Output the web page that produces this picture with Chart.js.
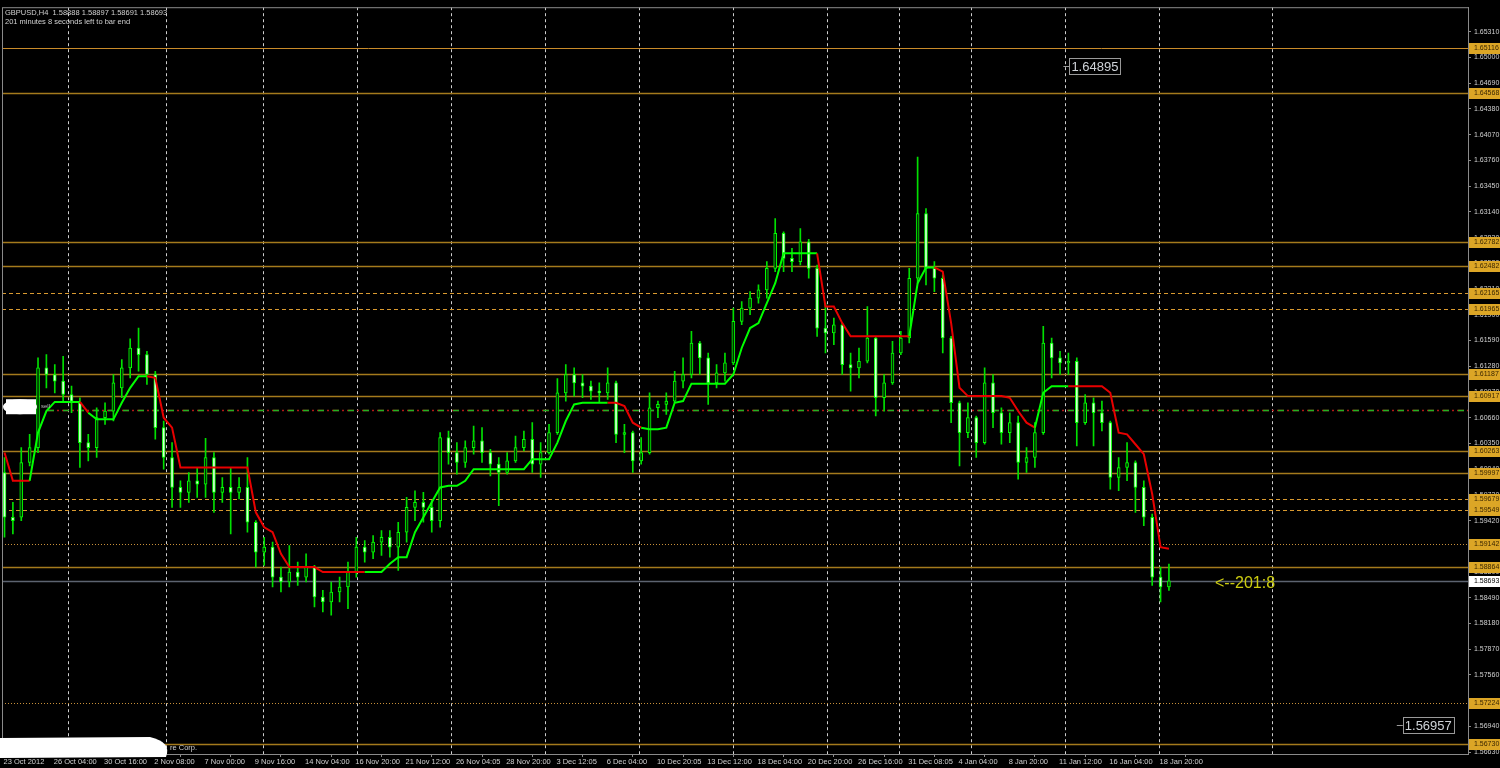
<!DOCTYPE html>
<html>
<head>
<meta charset="utf-8">
<title>GBPUSD,H4</title>
<script src="https://cdn.jsdelivr.net/npm/chart.js@4.4.1/dist/chart.umd.min.js"></script>
<style>
    html, body { margin: 0; padding: 0; background: #000; overflow: hidden; }
    canvas { display: block; }
</style>
</head>
<body>
<canvas id="myChart" width="1500" height="768"></canvas>
<script>
const openP = [
    1.6000,1.5946,1.5946,1.6012,1.6030,1.6126,1.6118,1.6110,1.6094,1.6084,
    1.6036,1.6030,1.6066,1.6074,1.6102,1.6126,1.6150,1.6142,1.6118,1.6054,
    1.6018,1.5982,1.5976,1.5990,1.5986,1.6018,1.5976,1.5982,1.5976,1.5982,
    1.5940,1.5904,1.5910,1.5874,1.5868,1.5880,1.5874,1.5886,1.5850,1.5844,
    1.5856,1.5862,1.5880,1.5910,1.5904,1.5916,1.5922,1.5910,1.5928,1.5958,
    1.5964,1.5958,1.5942,1.6042,1.6024,1.6012,1.6030,1.6038,1.6024,1.6010,
    1.6000,1.6014,1.6030,1.6040,1.6010,1.6024,1.6048,1.6096,1.6118,1.6108,
    1.6104,1.6098,1.6096,1.6108,1.6046,1.6048,1.6014,1.6024,1.6078,1.6082,
    1.6086,1.6110,1.6118,1.6156,1.6138,1.6108,1.6120,1.6132,1.6182,1.6198,
    1.6210,1.6220,1.6246,1.6288,1.6258,1.6254,1.6278,1.6246,1.6174,1.6168,
    1.6178,1.6130,1.6126,1.6134,1.6162,1.6090,1.6108,1.6144,1.6162,1.6234,
    1.6312,1.6246,1.6234,1.6162,1.6084,1.6048,1.6066,1.6036,1.6108,1.6072,
    1.6048,1.6060,1.6012,1.6018,1.6048,1.6156,1.6138,1.6132,1.6134,1.6060,
    1.6084,1.6072,1.6060,1.5994,1.6006,1.6012,1.5982,1.5946,1.5874,1.5862
];
const highP = [
    1.6018,1.5964,1.6030,1.6046,1.6138,1.6142,1.6130,1.6140,1.6104,1.6090,
    1.6046,1.6078,1.6084,1.6118,1.6136,1.6161,1.6174,1.6146,1.6122,1.6062,
    1.6036,1.5990,1.6000,1.6006,1.6041,1.6024,1.5994,1.6005,1.5994,1.6018,
    1.5942,1.5922,1.5916,1.5886,1.5912,1.5892,1.5902,1.5888,1.5858,1.5868,
    1.5874,1.5892,1.5922,1.5918,1.5924,1.5930,1.5930,1.5940,1.5970,1.5978,
    1.5976,1.5966,1.6048,1.6050,1.6036,1.6038,1.6056,1.6054,1.6028,1.6018,
    1.6024,1.6044,1.6050,1.6060,1.6036,1.6058,1.6113,1.6130,1.6126,1.6118,
    1.6110,1.6108,1.6126,1.6110,1.6058,1.6050,1.6042,1.6096,1.6086,1.6096,
    1.6122,1.6138,1.6170,1.6158,1.6144,1.6130,1.6144,1.6198,1.6206,1.6218,
    1.6226,1.6254,1.6306,1.6290,1.6270,1.6294,1.6281,1.6250,1.6204,1.6186,
    1.6180,1.6144,1.6150,1.6200,1.6164,1.6118,1.6158,1.6170,1.6246,1.6380,
    1.6318,1.6254,1.6238,1.6164,1.6086,1.6084,1.6068,1.6126,1.6118,1.6078,
    1.6072,1.6068,1.6030,1.6060,1.6176,1.6162,1.6146,1.6144,1.6138,1.6094,
    1.6090,1.6086,1.6062,1.6018,1.6036,1.6014,1.5990,1.5950,1.5886,1.58897
];
const lowP = [
    1.5922,1.5926,1.5942,1.6008,1.6024,1.6102,1.6096,1.6084,1.6072,1.6006,
    1.6014,1.6018,1.6058,1.6062,1.6090,1.6114,1.6122,1.6106,1.6040,1.6004,
    1.5958,1.5958,1.5964,1.5970,1.5970,1.5952,1.5964,1.5926,1.5968,1.5928,
    1.5886,1.5888,1.5862,1.5856,1.5862,1.5864,1.5868,1.5838,1.5832,1.5828,
    1.5844,1.5836,1.5874,1.5892,1.5896,1.5900,1.5898,1.5882,1.5916,1.5942,
    1.5940,1.5928,1.5934,1.6010,1.5998,1.6006,1.6022,1.6012,1.5996,1.5960,
    1.5998,1.6012,1.6026,1.6000,1.5994,1.6022,1.6046,1.6086,1.6092,1.6090,
    1.6088,1.6084,1.6088,1.6036,1.6024,1.6000,1.6010,1.6022,1.6066,1.6070,
    1.6084,1.6102,1.6114,1.6118,1.6082,1.6102,1.6110,1.6130,1.6178,1.6190,
    1.6204,1.6210,1.6242,1.6242,1.6242,1.6250,1.6234,1.6164,1.6144,1.6154,
    1.6118,1.6098,1.6114,1.6132,1.6068,1.6074,1.6106,1.6142,1.6156,1.6228,
    1.6226,1.6218,1.6144,1.6060,1.6008,1.6042,1.6018,1.6034,1.6054,1.6034,
    1.6036,1.5992,1.6000,1.6006,1.6046,1.6114,1.6118,1.6118,1.6032,1.6058,
    1.6032,1.6050,1.5980,1.5978,1.5990,1.5952,1.5936,1.5864,1.5844,1.5858
];
const closeP = [
    1.5946,1.5942,1.6012,1.6030,1.6126,1.6118,1.6110,1.6094,1.6086,1.6036,
    1.6030,1.6066,1.6074,1.6108,1.6126,1.6150,1.6142,1.6118,1.6054,1.6018,
    1.5982,1.5976,1.5990,1.5986,1.6018,1.5976,1.5982,1.5976,1.5982,1.5940,
    1.5904,1.5910,1.5874,1.5868,1.5880,1.5874,1.5886,1.5850,1.5844,1.5856,
    1.5862,1.5880,1.5910,1.5904,1.5916,1.5922,1.5910,1.5928,1.5958,1.5964,
    1.5958,1.5942,1.6042,1.6024,1.6012,1.6030,1.6038,1.6024,1.6010,1.6000,
    1.6014,1.6030,1.6040,1.6010,1.6024,1.6048,1.6096,1.6118,1.6108,1.6104,
    1.6098,1.6096,1.6108,1.6046,1.6048,1.6014,1.6024,1.6078,1.6082,1.6086,
    1.6110,1.6118,1.6156,1.6138,1.6108,1.6120,1.6132,1.6182,1.6198,1.6210,
    1.6220,1.6246,1.6288,1.6258,1.6254,1.6278,1.6246,1.6174,1.6168,1.6178,
    1.6130,1.6126,1.6134,1.6162,1.6090,1.6108,1.6144,1.6162,1.6234,1.6312,
    1.6246,1.6234,1.6162,1.6084,1.6048,1.6066,1.6036,1.6108,1.6072,1.6048,
    1.6060,1.6012,1.6018,1.6048,1.6156,1.6138,1.6132,1.6134,1.6060,1.6084,
    1.6072,1.6060,1.5994,1.6006,1.6012,1.5982,1.5946,1.5874,1.5862,1.58693
];
// trailing stop line and its side (1 = support / green, 0 = resistance / red)
const trailLine = [
    1.6024,1.5990,1.5990,1.5990,1.6048,1.6074,1.6085,1.6085,1.6085,1.6085,
    1.6072,1.6064,1.6064,1.6064,1.6084,1.6102,1.6116,1.6116,1.6114,1.6066,
    1.6054,1.6006,1.6006,1.6006,1.6006,1.6006,1.6006,1.6006,1.6006,1.6006,
    1.5952,1.5934,1.5928,1.5902,1.5886,1.5886,1.5886,1.5886,1.5880,1.5880,
    1.5880,1.5880,1.5880,1.5880,1.5880,1.5880,1.5890,1.5898,1.5898,1.5928,
    1.5946,1.5964,1.5982,1.5984,1.5984,1.5990,1.6004,1.6004,1.6004,1.6004,
    1.6004,1.6004,1.6004,1.6016,1.6016,1.6016,1.6036,1.6062,1.6082,1.6084,
    1.6084,1.6084,1.6084,1.6084,1.6080,1.6060,1.6054,1.6052,1.6052,1.6054,
    1.6084,1.6086,1.6107,1.6107,1.6107,1.6107,1.6107,1.6118,1.6150,1.6174,
    1.6180,1.6204,1.6228,1.6264,1.6264,1.6264,1.6264,1.6264,1.6200,1.6200,
    1.6180,1.6164,1.6164,1.6164,1.6164,1.6164,1.6164,1.6164,1.6164,1.6228,
    1.6247,1.6247,1.6242,1.6180,1.6102,1.6092,1.6092,1.6092,1.6092,1.6092,
    1.6090,1.6074,1.6060,1.6054,1.6096,1.6104,1.6104,1.6104,1.6104,1.6104,
    1.6104,1.6104,1.6096,1.6048,1.6046,1.6034,1.6022,1.5974,1.5910,1.5908
];
const trailUp = [
    0,0,0,0,1,1,1,1,1,1,
    0,1,1,1,1,1,1,1,0,0,
    0,0,0,0,0,0,0,0,0,0,
    0,0,0,0,0,0,0,0,0,0,
    0,0,0,0,1,1,1,1,1,1,
    1,1,1,1,1,1,1,1,1,1,
    1,1,1,1,1,1,1,1,1,1,
    1,1,1,0,0,0,0,1,1,1,
    1,1,1,1,1,1,1,1,1,1,
    1,1,1,1,1,1,1,1,0,0,
    0,0,0,0,0,0,0,0,0,1,
    1,1,0,0,0,0,0,0,0,0,
    0,0,0,0,1,1,1,1,0,0,
    0,0,0,0,0,0,0,0,0,0
];

const timeLabels = ['23 Oct 2012','26 Oct 04:00','30 Oct 16:00','2 Nov 08:00','7 Nov 00:00','9 Nov 16:00',
    '14 Nov 04:00','16 Nov 20:00','21 Nov 12:00','26 Nov 04:05','28 Nov 20:00','3 Dec 12:05',
    '6 Dec 04:00','10 Dec 20:05','13 Dec 12:00','18 Dec 04:00','20 Dec 20:00','26 Dec 16:00',
    '31 Dec 08:05','4 Jan 04:00','8 Jan 20:00','11 Jan 12:00','16 Jan 04:00','18 Jan 20:00'];
const priceTickLabels = ['1.56630','1.56940','1.57250','1.57560','1.57870','1.58180','1.58490','1.58800',
    '1.59110','1.59420','1.59730','1.60040','1.60350','1.60660','1.60970','1.61280','1.61590','1.61900',
    '1.62210','1.62520','1.62830','1.63140','1.63450','1.63760','1.64070','1.64380','1.64690','1.65000','1.65310'];
// week separators, in slot units
const weekStarts = [7.6, 19.3, 30.9, 42.1, 53.3, 64.5, 75.7, 87.0, 98.2, 106.8, 115.4, 126.6, 137.8, 151.3];

// horizontal price levels drawn on the chart
const levels = [1.65116, 1.64568, 1.62782, 1.62482, 1.62165, 1.61965, 1.61187, 1.60917,
    1.60263, 1.59997, 1.59679, 1.59549, 1.59142, 1.58864, 1.57224, 1.56730];
const levelKinds = ['thin','solid','solid','solid','dash','dash','solid','solid',
    'solid','solid','dash','dash','dot','solid','dot','solid'];
const signalLevel = 1.60750;
const currentPrice = 1.58693;
const priceNotes = [{slot: 126.4, price: 1.64895}, {slot: 166.2, price: 1.56957}];
const timerNote = {slot: 144.5, price: 1.58693, text: '<--201:8'};

const LABEL_STEP = 6;
const X_MIN = -0.3, X_MAX = 174.7;
const Y_MIN = 1.56608, Y_MAX = 1.65606;
const TEXT_COLOR = '#d0d0d0';

const levelStyle = {
    thin:  {color: '#c98b2a', width: 1, dash: []},
    solid: {color: '#a47a1c', width: 1.5, dash: []},
    dash:  {color: '#d99a30', width: 1, dash: [4, 3]},
    dot:   {color: '#c8903a', width: 1, dash: [1, 2]}
};

function el(str) {
    return document.querySelector(str);
}

const background = {
    id: 'background',
    beforeDraw(chart) {
        const c = chart.ctx;
        c.save();
        c.fillStyle = '#000';
        c.fillRect(0, 0, chart.width, chart.height);
        c.restore();
    }
};

const chartObjects = {
    id: 'chartObjects',
    beforeDatasetsDraw(chart) {
        const c = chart.ctx, a = chart.chartArea;
        const x = chart.scales.x, y = chart.scales.y;
        c.save();
        c.beginPath();
        c.rect(a.left, a.top, a.right - a.left, a.bottom - a.top);
        c.clip();

        // weekly separators
        c.strokeStyle = '#cfcfcf';
        c.lineWidth = 1;
        c.setLineDash([3, 3]);
        weekStarts.forEach(w => {
            const px = Math.round(x.getPixelForValue(w)) + 0.5;
            c.beginPath();
            c.moveTo(px, a.top);
            c.lineTo(px, a.bottom);
            c.stroke();
        });

        // price levels
        levels.forEach((v, i) => {
            const st = levelStyle[levelKinds[i]];
            const py = Math.round(y.getPixelForValue(v)) + 0.5;
            c.strokeStyle = st.color;
            c.lineWidth = st.width;
            c.setLineDash(st.dash);
            c.beginPath();
            c.moveTo(a.left, py);
            c.lineTo(a.right, py);
            c.stroke();
        });

        // sell level, red/green dash-dot
        const sy = Math.round(y.getPixelForValue(signalLevel)) + 0.5;
        c.lineWidth = 1.5;
        c.strokeStyle = '#b01818';
        c.setLineDash([7, 3, 2, 3]);
        c.beginPath();
        c.moveTo(a.left + 45, sy);
        c.lineTo(a.right, sy);
        c.stroke();
        c.strokeStyle = '#22b022';
        c.setLineDash([6, 9]);
        c.lineDashOffset = -1;
        c.beginPath();
        c.moveTo(a.left + 45, sy);
        c.lineTo(a.right, sy);
        c.stroke();
        c.lineDashOffset = 0;

        // bid line
        const cy = Math.round(y.getPixelForValue(currentPrice)) + 0.5;
        c.setLineDash([]);
        c.strokeStyle = '#5c6370';
        c.lineWidth = 1.5;
        c.beginPath();
        c.moveTo(a.left, cy);
        c.lineTo(a.right, cy);
        c.stroke();
        c.restore();
    },
    afterDraw(chart) {
        const c = chart.ctx, a = chart.chartArea;
        const x = chart.scales.x, y = chart.scales.y;
        c.save();

        // frame
        c.strokeStyle = '#8a8a8a';
        c.lineWidth = 1;
        c.strokeRect(a.left + 0.5, a.top + 0.5, a.right - a.left, a.bottom - a.top);

        // level price boxes on the axis
        c.font = "7px 'Liberation Sans', Arial, sans-serif";
        c.textBaseline = 'middle';
        c.textAlign = 'left';
        levels.forEach(v => {
            const py = Math.round(y.getPixelForValue(v));
            c.fillStyle = '#dca626';
            c.fillRect(a.right + 1, py - 5, chart.width - a.right - 1, 11);
            c.fillStyle = '#3a2600';
            c.fillText(v.toFixed(5), a.right + 6, py + 0.5);
        });
        const cy = Math.round(y.getPixelForValue(currentPrice));
        c.fillStyle = '#ffffff';
        c.fillRect(a.right + 1, cy - 5, chart.width - a.right - 1, 11);
        c.fillStyle = '#000000';
        c.fillText(currentPrice.toFixed(5), a.right + 6, cy + 0.5);

        // header
        c.fillStyle = TEXT_COLOR;
        c.font = "7.5px 'Liberation Sans', Arial, sans-serif";
        c.fillText('GBPUSD,H4  1.58888 1.58897 1.58691 1.58693', a.left + 3, a.top + 6);
        c.fillText('201 minutes 8 seconds left to bar end', a.left + 3, a.top + 15);

        // price notes with a small leader
        c.font = "13px 'Liberation Sans', Arial, sans-serif";
        priceNotes.forEach(n => {
            const px = x.getPixelForValue(n.slot), py = Math.round(y.getPixelForValue(n.price)) + 0.5;
            const txt = n.price.toFixed(5);
            const w = c.measureText(txt).width + 4;
            c.strokeStyle = '#9a9a9a';
            c.lineWidth = 1;
            c.beginPath();
            c.moveTo(px, py);
            c.lineTo(px + 6, py);
            c.stroke();
            c.strokeRect(Math.round(px + 6) + 0.5, py - 8, w, 16);
            c.fillStyle = '#cfd3d8';
            c.fillText(txt, px + 8, py + 1);
        });

        // bar timer
        c.font = "16px 'Liberation Sans', Arial, sans-serif";
        c.fillStyle = '#cccc10';
        c.fillText(timerNote.text, x.getPixelForValue(timerNote.slot), y.getPixelForValue(timerNote.price) + 3);

        // sell label with its (blanked) tag
        const sy = y.getPixelForValue(signalLevel);
        c.fillStyle = '#ffffff';
        c.beginPath();
        c.ellipse(a.left + 18, sy - 3.5, 17, 7.5, 0, 0, Math.PI * 2);
        c.fill();
        c.fillRect(a.left + 4, sy - 11, 30, 15);
        c.fillStyle = '#b8b8b8';
        c.font = "6px 'Liberation Sans', Arial, sans-serif";
        c.fillText('sell', a.left + 39, sy - 4);

        // copyright note, mostly blanked
        c.fillStyle = '#ffffff';
        c.beginPath();
        c.moveTo(0, a.bottom - 16);
        c.lineTo(150, a.bottom - 17);
        c.quadraticCurveTo(172, a.bottom - 12, 166, a.bottom + 3);
        c.lineTo(0, a.bottom + 4);
        c.closePath();
        c.fill();
        c.fillStyle = TEXT_COLOR;
        c.font = "7.5px 'Liberation Sans', Arial, sans-serif";
        c.fillText('re Corp.', 170, a.bottom - 6);
        c.restore();
    }
};

const myChartObj = new Chart(el('#myChart').getContext('2d'), {
    type: 'bar',
    data: {
        datasets: [
            {
                type: 'line',
                label: 'trail',
                data: trailLine.map((v, i) => ({x: i, y: v})),
                borderWidth: 2,
                pointRadius: 0,
                tension: 0,
                segment: {
                    borderColor: s => trailUp[s.p1DataIndex] ? '#00ff00' : '#e80000'
                },
                order: 0
            },
            {
                label: 'body',
                data: openP.map((o, i) => ({x: i, y: [o, closeP[i]]})),
                backgroundColor: openP.map((o, i) => closeP[i] >= o ? '#003000' : '#d8ffd8'),
                borderColor: '#00ff00',
                borderWidth: 1,
                borderSkipped: false,
                barThickness: 3,
                grouped: false,
                order: 1
            },
            {
                label: 'wick',
                data: highP.map((h, i) => ({x: i, y: [lowP[i], h]})),
                backgroundColor: '#00e000',
                borderWidth: 0,
                barThickness: 1,
                grouped: false,
                order: 2
            }
        ]
    },
    options: {
        responsive: false,
        animation: false,
        events: [],
        devicePixelRatio: 1,
        layout: {padding: {top: 2, left: 2, right: 0, bottom: 0}},
        plugins: {legend: {display: false}, tooltip: {enabled: false}},
        scales: {
            x: {
                type: 'linear',
                min: X_MIN,
                max: X_MAX,
                offset: false,
                afterBuildTicks: s => { s.ticks = timeLabels.map((t, i) => ({value: i * LABEL_STEP})); },
                afterFit: s => { s.height = 14; },
                grid: {drawOnChartArea: false, drawTicks: true, tickLength: 3, color: '#8a8a8a'},
                border: {color: '#8a8a8a'},
                ticks: {
                    callback: (v, i) => timeLabels[i],
                    align: 'start',
                    labelOffset: -1,
                    maxRotation: 0,
                    autoSkip: false,
                    padding: 0,
                    color: TEXT_COLOR,
                    font: {family: "'Liberation Sans', Arial, sans-serif", size: 7.5}
                }
            },
            y: {
                type: 'linear',
                position: 'right',
                min: Y_MIN,
                max: Y_MAX,
                afterBuildTicks: s => { s.ticks = priceTickLabels.map(t => ({value: Number(t)})); },
                afterFit: s => { s.width = 32; },
                grid: {drawOnChartArea: false, drawTicks: true, tickLength: 3, color: '#8a8a8a'},
                border: {color: '#8a8a8a'},
                ticks: {
                    callback: (v, i) => priceTickLabels[i],
                    autoSkip: false,
                    padding: 3,
                    color: TEXT_COLOR,
                    font: {family: "'Liberation Sans', Arial, sans-serif", size: 7}
                }
            }
        }
    },
    plugins: [background, chartObjects]
});
</script>
</body>
</html>
